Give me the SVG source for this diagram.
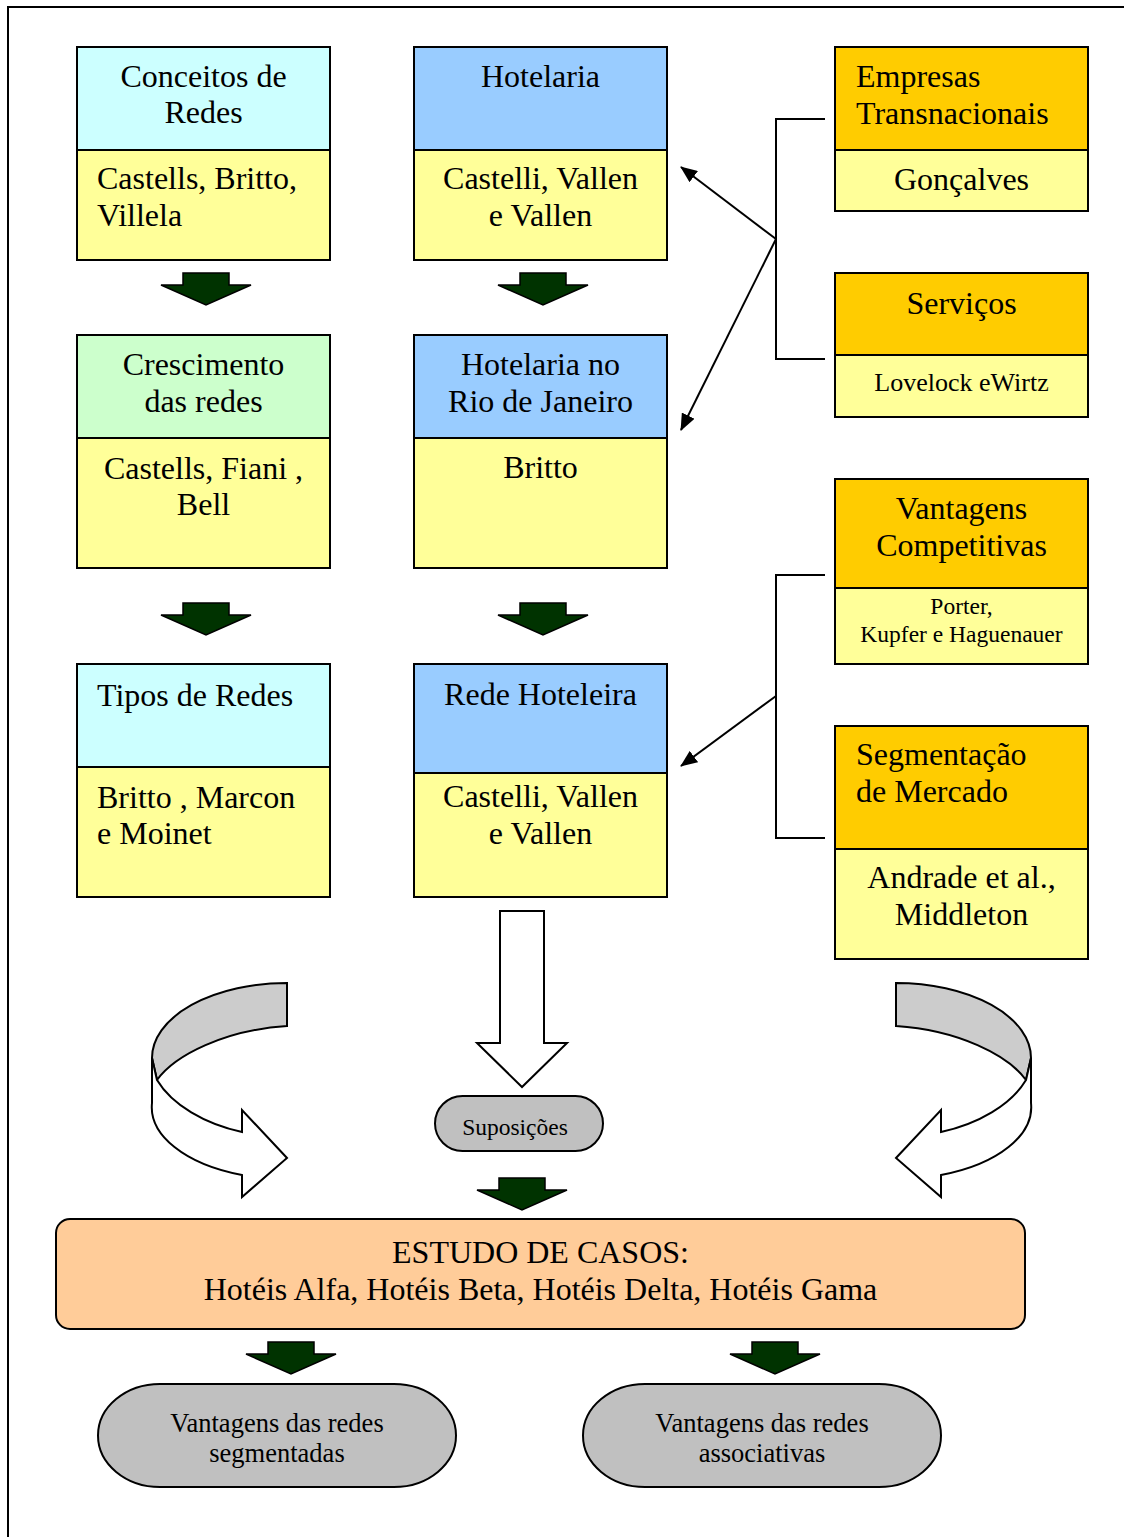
<svg xmlns="http://www.w3.org/2000/svg" width="1124" height="1537" viewBox="0 0 1124 1537">
<style>
text{font-family:"Liberation Serif","Times New Roman",serif;fill:#000;}
.t{font-size:32px;}
.m{font-size:26px;}
.b{font-size:26.5px;}
.s{font-size:23.5px;}
.c{text-anchor:middle;}
.box{stroke:#000;stroke-width:2;}
.cyan{fill:#CCFFFF;}
.green{fill:#CCFFCC;}
.blue{fill:#99CCFF;}
.yel{fill:#FFFF99;}
.org{fill:#FFCC00;}
.conn{stroke:#000;stroke-width:2;fill:none;}
.dn{fill:#003300;stroke:#000;stroke-width:1.5;}
.curv{stroke:#000;stroke-width:2;}
</style>
<defs>
<marker id="ah" markerUnits="userSpaceOnUse" markerWidth="18" markerHeight="14" refX="16" refY="7" orient="auto">
<path d="M0,0 L17,7 L0,14 Z" fill="#000"/>
</marker>
<path id="dnArrow" class="dn" d="M-23,0 H23 V12 H45 L0,32 L-45,12 H-23 Z"/>
<g id="curvedArrow">
<path class="curv" fill="#CCCCCC" d="M287,983 A135,75 0 0 0 152,1058 L157,1080 C175,1055 225,1030 287,1026 Z"/>
<path class="curv" fill="#FFFFFF" d="M152,1058 L152,1103 A135,72 0 0 0 242,1175 L242,1197 L287,1158 L242,1110 L242,1132 C205,1124 172,1105 157,1080 Z"/>
</g>
</defs>

<g id="frame">
<path d="M8,1537 V7 H1124" fill="none" stroke="#000" stroke-width="2"/>
</g>

<g id="node-conceitos">
<rect class="box cyan" x="77" y="47" width="253" height="103"/>
<rect class="box yel" x="77" y="150" width="253" height="110"/>
<text class="t c" x="203.5" y="87">Conceitos de</text>
<text class="t c" x="203.5" y="123">Redes</text>
<text class="t" x="97" y="189">Castells, Britto,</text>
<text class="t" x="97" y="226">Villela</text>
</g>

<g id="node-hotelaria">
<rect class="box blue" x="414" y="47" width="253" height="103"/>
<rect class="box yel" x="414" y="150" width="253" height="110"/>
<text class="t c" x="540.5" y="87">Hotelaria</text>
<text class="t c" x="540.5" y="189">Castelli, Vallen</text>
<text class="t c" x="540.5" y="226">e Vallen</text>
</g>

<g id="node-crescimento">
<rect class="box green" x="77" y="335" width="253" height="103"/>
<rect class="box yel" x="77" y="438" width="253" height="130"/>
<text class="t c" x="203.5" y="375">Crescimento</text>
<text class="t c" x="203.5" y="411.5">das redes</text>
<text class="t c" x="203.5" y="478.5">Castells, Fiani ,</text>
<text class="t c" x="203.5" y="515">Bell</text>
</g>

<g id="node-hotelaria-rio">
<rect class="box blue" x="414" y="335" width="253" height="103"/>
<rect class="box yel" x="414" y="438" width="253" height="130"/>
<text class="t c" x="540.5" y="375">Hotelaria no</text>
<text class="t c" x="540.5" y="411.5">Rio de Janeiro</text>
<text class="t c" x="540.5" y="478">Britto</text>
</g>

<g id="node-tipos">
<rect class="box cyan" x="77" y="664" width="253" height="103"/>
<rect class="box yel" x="77" y="767" width="253" height="130"/>
<text class="t" x="97" y="705.5">Tipos de Redes</text>
<text class="t" x="97" y="808">Britto , Marcon</text>
<text class="t" x="97" y="844">e Moinet</text>
</g>

<g id="node-rede-hoteleira">
<rect class="box blue" x="414" y="664" width="253" height="109"/>
<rect class="box yel" x="414" y="773" width="253" height="124"/>
<text class="t c" x="540.5" y="705">Rede Hoteleira</text>
<text class="t c" x="540.5" y="807">Castelli, Vallen</text>
<text class="t c" x="540.5" y="843.5">e Vallen</text>
</g>

<g id="node-empresas">
<rect class="box org" x="835" y="47" width="253" height="103"/>
<rect class="box yel" x="835" y="150" width="253" height="61"/>
<text class="t" x="856" y="87">Empresas</text>
<text class="t" x="856" y="123.5">Transnacionais</text>
<text class="t c" x="961.5" y="189.5">Gonçalves</text>
</g>

<g id="node-servicos">
<rect class="box org" x="835" y="273" width="253" height="82"/>
<rect class="box yel" x="835" y="355" width="253" height="62"/>
<text class="t c" x="961.5" y="313.5">Serviços</text>
<text class="m c" x="961.5" y="391">Lovelock eWirtz</text>
</g>

<g id="node-vantagens">
<rect class="box org" x="835" y="479" width="253" height="109"/>
<rect class="box yel" x="835" y="588" width="253" height="76"/>
<text class="t c" x="961.5" y="518.5">Vantagens</text>
<text class="t c" x="961.5" y="556">Competitivas</text>
<text class="s c" x="961.5" y="614">Porter,</text>
<text class="s c" x="961.5" y="641.5">Kupfer e Haguenauer</text>
</g>

<g id="node-segmentacao">
<rect class="box org" x="835" y="726" width="253" height="123"/>
<rect class="box yel" x="835" y="849" width="253" height="110"/>
<text class="t" x="856" y="765">Segmentação</text>
<text class="t" x="856" y="802">de Mercado</text>
<text class="t c" x="961.5" y="888">Andrade et al.,</text>
<text class="t c" x="961.5" y="925">Middleton</text>
</g>

<g id="node-suposicoes">
<rect class="box" fill="#C0C0C0" x="435" y="1096" width="168" height="55" rx="27.5" ry="27.5"/>
<text class="s c" x="515" y="1135">Suposições</text>
</g>

<g id="node-estudo">
<rect class="box" fill="#FFCC99" x="56" y="1219" width="969" height="110" rx="14" ry="14"/>
<text class="t c" x="540.5" y="1262.5">ESTUDO DE CASOS:</text>
<text class="t c" x="540.5" y="1299.5">Hotéis Alfa, Hotéis Beta, Hotéis Delta, Hotéis Gama</text>
</g>

<g id="node-segmentadas">
<rect class="box" fill="#C0C0C0" x="98" y="1384" width="358" height="103" rx="62" ry="51.5"/>
<text class="b c" x="277" y="1431.5">Vantagens das redes</text>
<text class="b c" x="277" y="1461.5">segmentadas</text>
</g>

<g id="node-associativas">
<rect class="box" fill="#C0C0C0" x="583" y="1384" width="358" height="103" rx="62" ry="51.5"/>
<text class="b c" x="762" y="1431.5">Vantagens das redes</text>
<text class="b c" x="762" y="1461.5">associativas</text>
</g>

<g id="connectors">
<use href="#dnArrow" x="206" y="273"/>
<use href="#dnArrow" x="543" y="273"/>
<use href="#dnArrow" x="206" y="603"/>
<use href="#dnArrow" x="543" y="603"/>
<use href="#dnArrow" x="522" y="1178"/>
<use href="#dnArrow" x="291" y="1342"/>
<use href="#dnArrow" x="775" y="1342"/>
<polyline class="conn" points="825,119 776,119 776,359 825,359"/>
<polyline class="conn" points="825,575 776,575 776,838 825,838"/>
<line class="conn" x1="776" y1="239" x2="681" y2="167" marker-end="url(#ah)"/>
<line class="conn" x1="776" y1="239" x2="681" y2="430" marker-end="url(#ah)"/>
<line class="conn" x1="776" y1="696" x2="681" y2="766" marker-end="url(#ah)"/>
<polygon points="500,911 544,911 544,1043 567,1043 522,1087 477,1043 500,1043" fill="#FFFFFF" stroke="#000" stroke-width="2"/>
<use href="#curvedArrow"/>
<use href="#curvedArrow" transform="matrix(-1 0 0 1 1183 0)"/>
</g>
</svg>
